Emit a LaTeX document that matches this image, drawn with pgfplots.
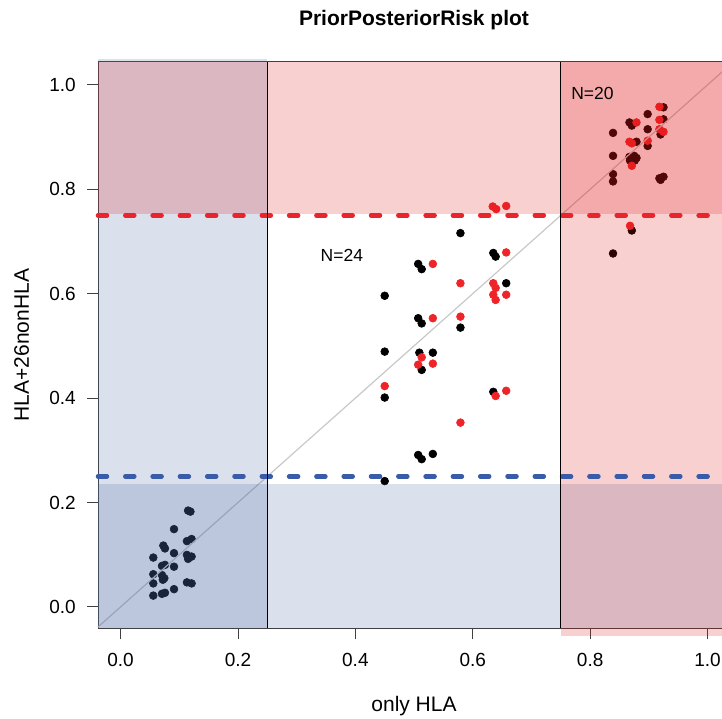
\documentclass[border=0pt]{standalone}
\usepackage{pgfplots}
\pgfplotsset{compat=1.18}
\usepackage{fontspec}
\setmainfont{Liberation Sans}
\definecolor{ptred}{RGB}{238,36,40}
\definecolor{ovred}{RGB}{225,20,20}
\definecolor{ovblue}{RGB}{70,100,160}
\definecolor{dashred}{RGB}{232,36,44}
\definecolor{dashblue}{RGB}{58,92,168}
\definecolor{diag}{RGB}{200,200,200}
\begin{document}
\begin{tikzpicture}
\begin{axis}[
  at={(0pt,0pt)}, anchor=south west,
  scale only axis, width=633pt, height=566.4pt,
  xmin=-0.0385, xmax=1.04, ymin=-0.041, ymax=1.044,
  clip=false, clip marker paths=true,
  axis line style={draw=black!75, line width=0.8pt},
  xtick={0,0.2,0.4,0.6,0.8,1.0}, ytick={0,0.2,0.4,0.6,0.8,1.0},
  tick pos=left, tick align=outside, major tick length=11pt,
  tick style={black!75, line width=0.8pt},
  ticklabel style={font=\fontsize{19}{19}\selectfont},
  xticklabel style={anchor=north, inner sep=0pt, yshift=-14pt},
  yticklabel style={anchor=east, inner sep=0pt, xshift=-11pt},
  /pgf/number format/.cd, fixed, fixed zerofill, precision=1, assume math mode=true,
]
% black points
\addplot[only marks, black, mark=*, mark size=3.9pt, mark options={draw=black, fill=black, line width=0.6pt}] coordinates {
(0.579,0.716) (0.635,0.678) (0.639,0.671) (0.507,0.657) (0.513,0.647)
(0.657,0.620) (0.450,0.596) (0.507,0.553) (0.513,0.543) (0.579,0.535)
(0.450,0.489) (0.509,0.487) (0.532,0.487) (0.513,0.454) (0.450,0.401)
(0.635,0.412) (0.507,0.291) (0.513,0.283) (0.532,0.293) (0.450,0.241)
(0.925,0.957) (0.898,0.944) (0.925,0.934) (0.867,0.928) (0.871,0.922)
(0.839,0.908) (0.898,0.915) (0.920,0.905) (0.879,0.891) (0.898,0.883)
(0.839,0.864) (0.867,0.862) (0.875,0.864) (0.879,0.860) (0.868,0.855)
(0.876,0.855) (0.839,0.829) (0.839,0.815) (0.918,0.821) (0.925,0.824)
(0.920,0.818) (0.871,0.721) (0.839,0.677)
(0.115,0.1845) (0.119,0.1825) (0.091,0.149) (0.0728,0.1175) (0.0756,0.112)
(0.113,0.126) (0.121,0.130) (0.091,0.103) (0.0557,0.0945) (0.113,0.0996)
(0.121,0.0964) (0.115,0.092) (0.0705,0.0785) (0.0756,0.0805) (0.091,0.077)
(0.0557,0.0626) (0.0705,0.061) (0.0745,0.055) (0.072,0.052) (0.0557,0.045)
(0.113,0.047) (0.121,0.045) (0.091,0.034) (0.0705,0.025) (0.0756,0.027)
(0.0557,0.0216)
};
% red points
\addplot[only marks, ptred, mark=*, mark size=3.9pt, mark options={draw=ptred, fill=ptred, line width=0.6pt}] coordinates {
(0.657,0.679) (0.532,0.657) (0.579,0.620) (0.635,0.620) (0.639,0.611)
(0.635,0.598) (0.639,0.588) (0.657,0.598) (0.532,0.553) (0.579,0.556)
(0.513,0.478) (0.507,0.464) (0.532,0.466) (0.450,0.423) (0.639,0.404)
(0.657,0.414) (0.579,0.353) (0.634,0.767) (0.640,0.762) (0.657,0.768)
(0.918,0.958) (0.918,0.933) (0.879,0.928) (0.918,0.915) (0.925,0.910)
(0.867,0.891) (0.871,0.888) (0.898,0.893) (0.871,0.845) (0.868,0.730)
};
% diagonal
\addplot[diag, line width=1.2pt] coordinates {(-0.0385,-0.0385) (1.04,1.04)};
% translucent regions
\addplot[draw=none, fill=ovblue, fill opacity=0.2] coordinates {(-0.0385,-0.041) (0.25,-0.041) (0.25,1.0496) (-0.0385,1.0496)};
\addplot[draw=none, fill=ovblue, fill opacity=0.2] coordinates {(-0.0385,-0.041) (1.04,-0.041) (1.04,0.2355) (-0.0385,0.2355)};
\addplot[draw=none, fill=ovred, fill opacity=0.2] coordinates {(0.75,-0.0557) (1.04,-0.0557) (1.04,1.044) (0.75,1.044)};
\addplot[draw=none, fill=ovred, fill opacity=0.2] coordinates {(-0.0385,0.7517) (1.04,0.7517) (1.04,1.044) (-0.0385,1.044)};
% dashed thresholds
\addplot[dashred, line width=4.5pt, line cap=round, dash pattern=on 9pt off 18.3pt] coordinates {(-0.0385,0.75) (1.04,0.75)};
\addplot[dashblue, line width=4.5pt, line cap=round, dash pattern=on 9pt off 18.3pt] coordinates {(-0.0385,0.25) (1.04,0.25)};
% vertical lines
\addplot[black, line width=0.8pt] coordinates {(0.25,-0.041) (0.25,1.044)};
\addplot[black, line width=0.8pt] coordinates {(0.75,-0.041) (0.75,1.044)};
\node[font=\fontsize{17.5}{17.5}\selectfont] at (axis cs:0.377,0.674) {N=24};
\node[font=\fontsize{17.5}{17.5}\selectfont] at (axis cs:0.804,0.983) {N=20};
\end{axis}
\node[font=\fontsize{21}{21}\selectfont\bfseries, anchor=base] at (316pt,602.8pt) {PriorPosteriorRisk plot};
\node[font=\fontsize{21}{21}\selectfont, anchor=base] at (316pt,-83.7pt) {only HLA};
\node[font=\fontsize{21}{21}\selectfont, anchor=base, rotate=90] at (-69pt,283.3pt) {HLA+26nonHLA};
\pgfresetboundingbox
\path[use as bounding box] (-98pt,-90.7pt) rectangle (624pt,628.3pt);
\end{tikzpicture}
\end{document}
